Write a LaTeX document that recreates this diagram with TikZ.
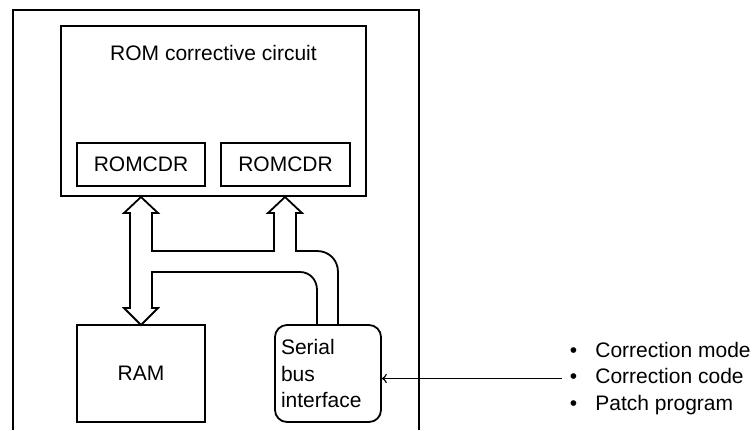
\documentclass[tikz,border=0pt]{standalone}
\usepackage{fontspec}
\setmainfont{Liberation Sans}
\begin{document}
\begin{tikzpicture}[x=0.5pt, y=-0.5pt]

% --- Define reusable styles and key coordinates ---
\tikzset{
    label/.style={font=\fontsize{10.5}{13.25}\selectfont},
    block/.style={draw, line width=0.9pt, inner sep=0pt, label},
    iface/.style={block, rounded corners=6pt, align=left, text width=47pt, inner xsep=3pt, minimum height=48.5pt},
    bus/.style={line width=0.9pt, line join=miter}
}
% Picture frame and the outline of the chip (open at the bottom)
\def\chipleft{13}
\def\chipright{419}
\def\chiptop{10}
\def\chipbottom{430}
\useasboundingbox (0,0) rectangle (754,430);

% 1. Draw the chip outline
\draw[line width=0.9pt] (\chipleft,\chipbottom) -- (\chipleft,\chiptop) -- (\chipright,\chiptop) -- (\chipright,\chipbottom);

% 2. Draw the ROM corrective circuit with its two registers
\node[block, minimum width=152.5pt, minimum height=85pt] (rom) at (213.5,111) {};
\node[label] (romtitle) at (213.5,53) {ROM corrective circuit};
\node[block, minimum width=64pt, minimum height=21.5pt] (romcdra) at (141,164.5) {ROMCDR};
\node[block, minimum width=64.5pt, minimum height=21.5pt] (romcdrb) at (285.5,164.5) {ROMCDR};

% 3. Draw the RAM and the serial bus interface
\node[block, minimum width=64pt, minimum height=48.5pt] (ram) at (141,373.5) {RAM};
\node[iface] (sbi) at (328,373.5) {Serial\\bus\\interface};

% 4. Draw the wide bus arrows (outer and inner outline)
\draw[bus] (141,197) -- (158,213) -- (152,213) -- (152,251) -- (274,251) -- (274,213) -- (268,213)
    -- (285,197) -- (302,213) -- (296,213) -- (296,251) -- (317,251)
    .. controls (329,251) and (338,260) .. (338,272) -- (338,325);
\draw[bus] (317,325) -- (317,290) .. controls (317,280) and (310,272) .. (300,272) -- (152,272)
    -- (152,308) -- (158,308) -- (141,325) -- (124,308) -- (130,308) -- (130,213) -- (124,213) -- (141,197);

% 5. Draw the external inputs and their arrow into the interface
\node[label, anchor=west, align=left, inner xsep=3.75pt, inner ysep=0pt] (inputs) at (562,378.5)
    {\makebox[12.75pt][l]{\textbullet}Correction mode\\
     \makebox[12.75pt][l]{\textbullet}Correction code\\
     \makebox[12.75pt][l]{\textbullet}Patch program};
\draw[->, line width=0.75pt] (inputs.west) -- (inputs.west -| sbi.east);

\end{tikzpicture}
\end{document}
